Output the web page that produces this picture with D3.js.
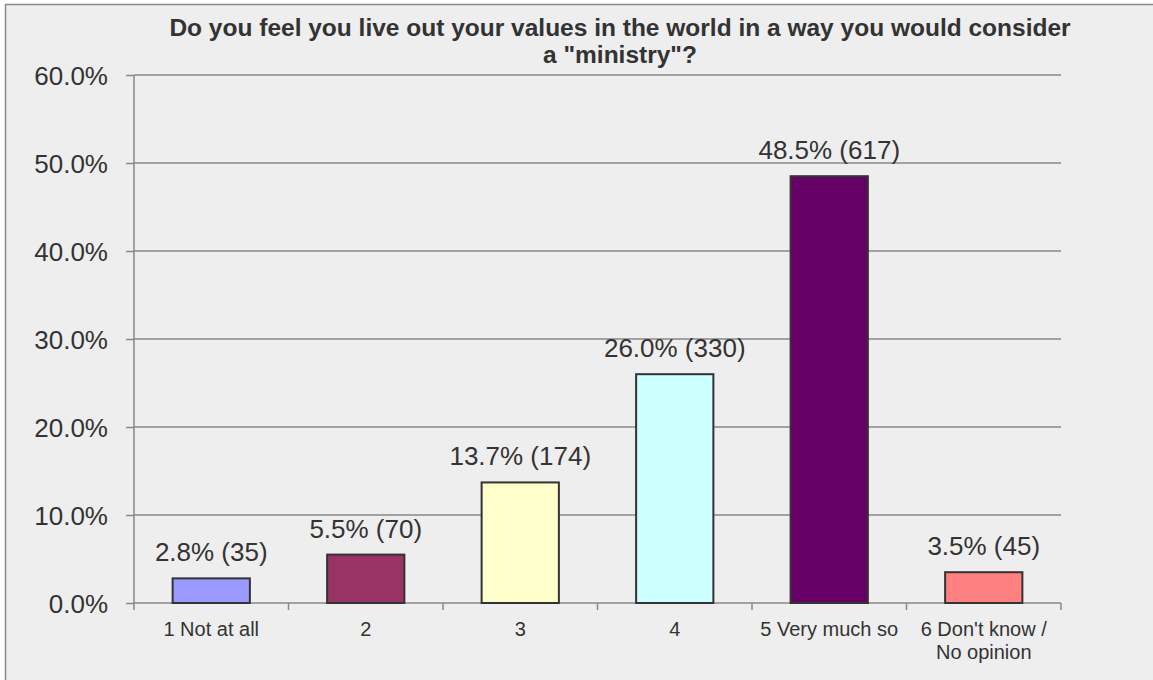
<!DOCTYPE html>
<html><head><meta charset="utf-8">
<script src="https://cdn.jsdelivr.net/npm/d3@7"></script>
<style>body{margin:0;background:#fff;}svg{display:block;}</style>
</head><body>
<svg id="chart" width="1153" height="680"></svg>
<script>
const categories = ["1 Not at all","2","3","4","5 Very much so","6 Don't know / No opinion"];
const percents = [2.8, 5.5, 13.7, 26.0, 48.5, 3.5];
const counts = [35, 70, 174, 330, 617, 45];
const colors = ["#9999ff","#993366","#ffffcc","#ccffff","#660066","#ff8080"];
const yTicks = [0,10,20,30,40,50,60];
const titleLines = ["Do you feel you live out your values in the world in a way you would consider","a \"ministry\"?"];

(function(){
const svg = d3.select("#chart");
const font = "Arial, 'Liberation Sans', sans-serif";
svg.append("rect").attr("x",5.5).attr("y",4.5).attr("width",1160).attr("height",690)
  .attr("fill","#eeeeee").attr("stroke","#888").attr("stroke-width",1.5);

const pL=134, pR=1061, pT=75, pB=603;
const x = d3.scaleBand().domain(categories).range([pL,pR]).paddingInner(0).paddingOuter(0);
const y = d3.scaleLinear().domain([0,60]).range([pB,pT]);

svg.append("g").selectAll("line").data(yTicks.filter(d=>d>0)).join("line")
  .attr("x1",pL).attr("x2",pR).attr("y1",d=>y(d)).attr("y2",d=>y(d))
  .attr("stroke","#888").attr("stroke-width",1.5);

const ya = svg.append("g").attr("transform",`translate(${pL},0)`)
  .call(d3.axisLeft(y).tickValues(yTicks).tickSize(8).tickPadding(18).tickFormat(d=>d.toFixed(1)+"%"));
ya.select(".domain").attr("stroke","#888").attr("stroke-width",1.5).attr("d",`M0,${pT}V${pB}`);
ya.selectAll(".tick line").attr("stroke","#888").attr("stroke-width",1.5);
ya.selectAll(".tick text").attr("font-family",font).attr("font-size",26).attr("fill","#333").attr("dy","0.35em");

const xa = svg.append("g").attr("transform",`translate(0,${pB})`);
xa.append("line").attr("x1",pL).attr("x2",pR).attr("stroke","#888").attr("stroke-width",1.5);
const bounds = categories.map(c=>x(c)).concat([pR]);
xa.selectAll("line.t").data(bounds).join("line").attr("class","t")
  .attr("x1",d=>d).attr("x2",d=>d).attr("y1",0).attr("y2",7).attr("stroke","#888").attr("stroke-width",1.5);
const labels = xa.selectAll("text").data(categories).join("text")
  .attr("x",d=>x(d)+x.bandwidth()/2).attr("y",33)
  .attr("text-anchor","middle").attr("font-family",font).attr("font-size",20).attr("fill","#333");
labels.each(function(d){
  const t = d3.select(this);
  if(d.startsWith("6")){
    t.append("tspan").attr("x",x(d)+x.bandwidth()/2).attr("dy",0).text("6 Don't know /");
    t.append("tspan").attr("x",x(d)+x.bandwidth()/2).attr("dy",23).text("No opinion");
  } else t.text(d);
});

const bw = x.bandwidth()/2;
svg.append("g").selectAll("rect").data(categories).join("rect")
  .attr("x",(d)=>x(d)+x.bandwidth()/2-bw/2).attr("width",bw)
  .attr("y",(d,i)=>y(percents[i])).attr("height",(d,i)=>pB-y(percents[i]))
  .attr("fill",(d,i)=>colors[i]).attr("stroke","#333").attr("stroke-width",2);

svg.append("g").selectAll("text").data(categories).join("text")
  .attr("x",d=>x(d)+x.bandwidth()/2).attr("y",(d,i)=>y(percents[i])-17)
  .attr("text-anchor","middle").attr("font-family",font).attr("font-size",26).attr("fill","#333")
  .text((d,i)=>percents[i].toFixed(1)+"% ("+counts[i]+")");

svg.append("g").selectAll("text").data(titleLines).join("text")
  .attr("x",620).attr("y",(d,i)=>36+i*27).attr("text-anchor","middle")
  .attr("font-family",font).attr("font-size",24.5).attr("font-weight","bold").attr("fill","#333")
  .text(d=>d);
})();
</script>
</body></html>
